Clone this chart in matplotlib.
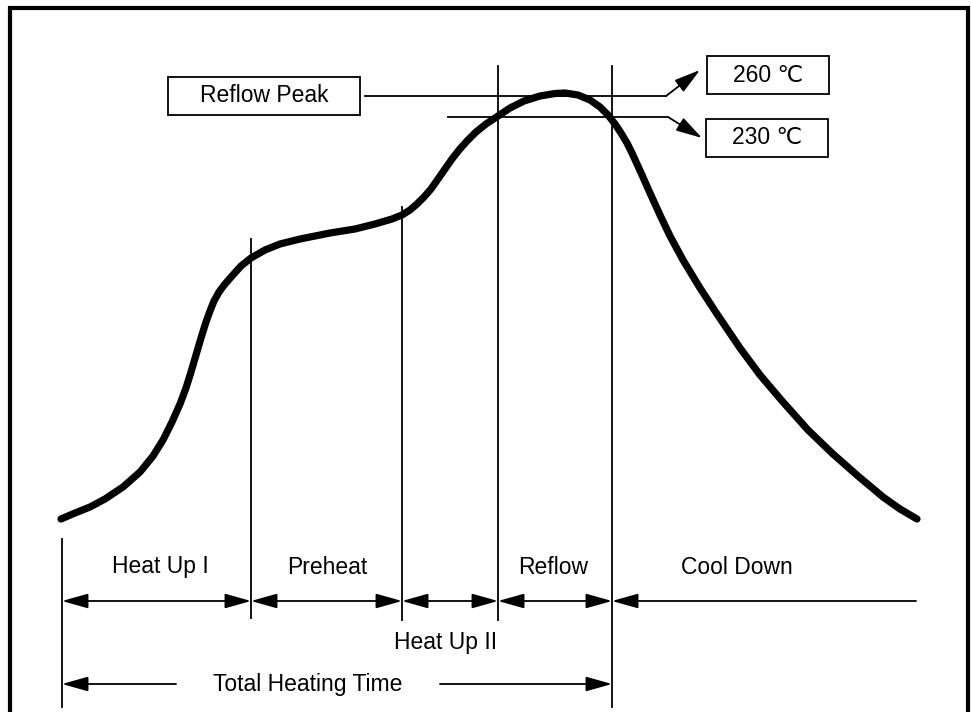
import matplotlib.pyplot as plt
from matplotlib.patches import Rectangle

# -----------------------------
# DATA (in picture units: x = time, y = height)
# -----------------------------
curve_t = [61, 75, 90, 105, 123, 140, 153, 163, 172, 180, 186, 191, 196, 201,
           206, 210, 214, 219, 225, 232, 241, 251, 265, 280, 300, 330, 355,
           375, 392, 402, 410, 417, 424, 431, 438, 445, 452, 459, 467, 476,
           486, 498, 510, 524, 540, 555, 565, 578, 590, 600, 608, 615, 621,
           627, 632, 637, 642, 650, 660, 670, 683, 700, 717, 740, 760, 783,
           808, 833, 858, 883, 900, 917]
curve_temp = [519, 513, 507, 499, 487, 472, 456, 440, 422, 404, 388, 372, 355,
              338, 322, 311, 301, 292, 284, 276, 266, 258, 250, 244, 239, 233,
              229, 224, 219, 215, 210, 204, 197, 189, 179, 169, 159, 150, 141,
              132, 124, 116, 108, 101, 96, 93.5, 93, 95, 100, 107, 115, 124,
              133, 143, 153, 164, 175, 193, 215, 236, 260, 288, 314, 348, 375,
              402, 430, 454, 476, 497, 509, 519]

phase_edges = [62, 251, 402, 498, 612]
edge_top = [539, 239, 207, 66, 66]
edge_bottom = [707, 618, 620, 620, 707]
cool_end = 916

phase_labels = ["Heat Up I", "Preheat", "Reflow", "Cool Down"]
label_x = [160, 327, 553, 737]
heatup2_label = "Heat Up II"
total_label = "Total Heating Time"

peak_labels = ["260 ℃", "230 ℃"]
peak_level = [96, 117]
peak_line_start = [365, 448]
peak_line_end = [666, 668]
peak_arrow_tip = [(700, 70), (702, 138)]

FONT = ['Liberation Sans', 'DejaVu Sans']
FS = 16.5
LW = 1.3

# -----------------------------
# FIGURE
# -----------------------------
fig = plt.figure(figsize=(9.71, 7.12), dpi=100)
ax = fig.add_axes([0, 0, 1, 1])
ax.set_xlim(0, 971)
ax.set_ylim(712, 0)
ax.axis('off')

# outer frame (open at the bottom)
ax.plot([10, 10, 968, 968], [712, 8, 8, 712], color='black', lw=3,
        solid_joinstyle='miter')

# temperature curve
ax.plot(curve_t, curve_temp, color='black', lw=5.2, solid_capstyle='round',
        solid_joinstyle='round')

# phase boundaries
for x, y0, y1 in zip(phase_edges, edge_top, edge_bottom):
    ax.plot([x, x], [y0, y1], color='black', lw=LW)


def arrow(x0, y0, x1, y1, style):
    ax.annotate('', xy=(x1, y1), xytext=(x0, y0),
                arrowprops=dict(arrowstyle=style + ',head_length=1.6,head_width=0.45',
                                color='black', lw=LW, shrinkA=0, shrinkB=0,
                                mutation_scale=10))


# phase arrows
row_y = 601
for a, b in zip(phase_edges[:-1], phase_edges[1:]):
    arrow(a, row_y, b, row_y, '<|-|>')
arrow(phase_edges[-1], row_y, cool_end, row_y, '<|-')

# total heating time
tot_y = 684
arrow(176, tot_y, phase_edges[0], tot_y, '-|>')
arrow(440, tot_y, phase_edges[-1], tot_y, '-|>')

# labels
for lab, x in zip(phase_labels, label_x):
    ax.text(x, 567, lab, ha='center', va='center', fontsize=FS, family=FONT)
ax.text(446, 643, heatup2_label, ha='center', va='center', fontsize=FS, family=FONT)
ax.text(308, 684, total_label, ha='center', va='center', fontsize=FS, family=FONT)

# reflow peak box
ax.add_patch(Rectangle((168, 77), 192, 38, fill=False, lw=LW, ec='black'))
ax.text(264, 96, "Reflow Peak", ha='center', va='center', fontsize=FS, family=FONT)

# peak temperature leaders and boxes
box_y = [56, 119]
box_x = [707, 706]
for lab, lvl, xs, xe, tip, bx, by in zip(peak_labels, peak_level, peak_line_start,
                                         peak_line_end, peak_arrow_tip, box_x, box_y):
    ax.plot([xs, xe], [lvl, lvl], color='black', lw=LW)
    arrow(xe, lvl, tip[0], tip[1], '-|>')
    ax.add_patch(Rectangle((bx, by), 122, 38, fill=False, lw=LW, ec='black'))
    ax.text(bx + 61, by + 19, lab, ha='center', va='center', fontsize=FS, family=FONT)

fig.savefig('out.png', dpi=100)
